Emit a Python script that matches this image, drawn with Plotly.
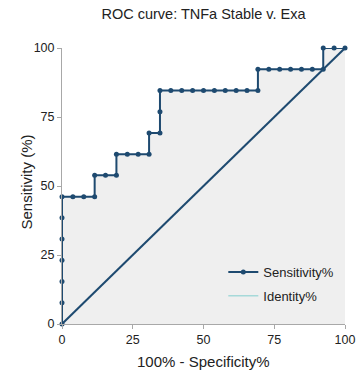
import plotly.graph_objects as go

# ROC curve points: 100% - Specificity% (x) and Sensitivity% (y)
one_minus_spec = [
    0, 0, 0, 0, 0, 0, 0,
    3.846, 7.692, 11.54,
    11.54, 15.38, 19.23,
    19.23, 23.08, 26.92, 30.77,
    30.77, 34.62,
    34.62, 34.62,
    38.46, 42.31, 46.15, 50.00, 53.85, 57.69, 61.54, 65.38, 69.23,
    69.23, 73.08, 76.92, 80.77, 84.62, 88.46, 92.31,
    92.31, 96.15, 100,
]
sensitivity = [
    0, 7.692, 15.38, 23.08, 30.77, 38.46, 46.15,
    46.15, 46.15, 46.15,
    53.85, 53.85, 53.85,
    61.54, 61.54, 61.54, 61.54,
    69.23, 69.23,
    76.92, 84.62,
    84.62, 84.62, 84.62, 84.62, 84.62, 84.62, 84.62, 84.62, 84.62,
    92.31, 92.31, 92.31, 92.31, 92.31, 92.31, 92.31,
    100, 100, 100,
]

# Identity (chance) line
identity_x = [0, 100]
identity_y = [0, 100]

tick_vals = [0, 25, 50, 75, 100]
tick_text = ["0", "25", "50", "75", "100"]

CURVE = "#1e4a70"
IDENT_LEGEND = "#a6d9d9"
FILL = "#efefef"
AXIS = "#a8a8a8"
TEXT = "#222"
FONT = "Liberation Sans, Arial, Helvetica, sans-serif"

fig = go.Figure()

fig.add_trace(go.Scatter(
    x=one_minus_spec, y=sensitivity, mode="lines+markers",
    name="Sensitivity%", line=dict(color=CURVE, width=2),
    marker=dict(color=CURVE, size=5),
    fill="tozeroy", fillcolor=FILL, cliponaxis=False,
    legendgroup="a",
))
fig.add_trace(go.Scatter(
    x=identity_x, y=identity_y, mode="lines",
    line=dict(color=CURVE, width=2), showlegend=False,
    cliponaxis=False, hoverinfo="skip",
))
# legend entry for the identity line
fig.add_trace(go.Scatter(
    x=[None], y=[None], mode="lines", name="Identity%",
    line=dict(color=IDENT_LEGEND, width=1.5), legendgroup="b",
))

axis_common = dict(
    range=[0, 100], tickvals=tick_vals, ticktext=tick_text,
    showgrid=False, zeroline=False, showline=True, linecolor=AXIS,
    linewidth=1, ticks="outside", ticklen=4, tickcolor=AXIS,
    tickfont=dict(family=FONT, size=12.5, color=TEXT),
    fixedrange=True, automargin=False,
)

fig.update_layout(
    width=364, height=371,
    margin=dict(l=62, r=19, t=48, b=47),
    paper_bgcolor="white", plot_bgcolor="white",
    title=dict(text="ROC curve: TNFa Stable v. Exa", x=0.5, xref="paper",
               xanchor="center", y=1, yref="container", yanchor="top",
               pad=dict(t=9),
               font=dict(family=FONT, size=14.5, color=TEXT)),
    xaxis=dict(**axis_common),
    yaxis=dict(**axis_common),
    legend=dict(x=0.57, y=0.243, xanchor="left", yanchor="top",
                bgcolor="rgba(0,0,0,0)", tracegroupgap=4,
                font=dict(family=FONT, size=13, color=TEXT)),
    showlegend=True,
    annotations=[
        dict(text="100% - Specificity%", xref="paper", yref="paper",
             x=0.5, y=0, xanchor="center", yanchor="middle", yshift=-37.5,
             showarrow=False, font=dict(family=FONT, size=15, color=TEXT)),
        dict(text="Sensitivity (%)", xref="paper", yref="paper",
             x=0, y=0.5, xanchor="center", yanchor="middle", textangle=-90,
             xshift=-36.5, yshift=4, showarrow=False,
             font=dict(family=FONT, size=15, color=TEXT)),
    ],
)

fig.write_html("out.html")
